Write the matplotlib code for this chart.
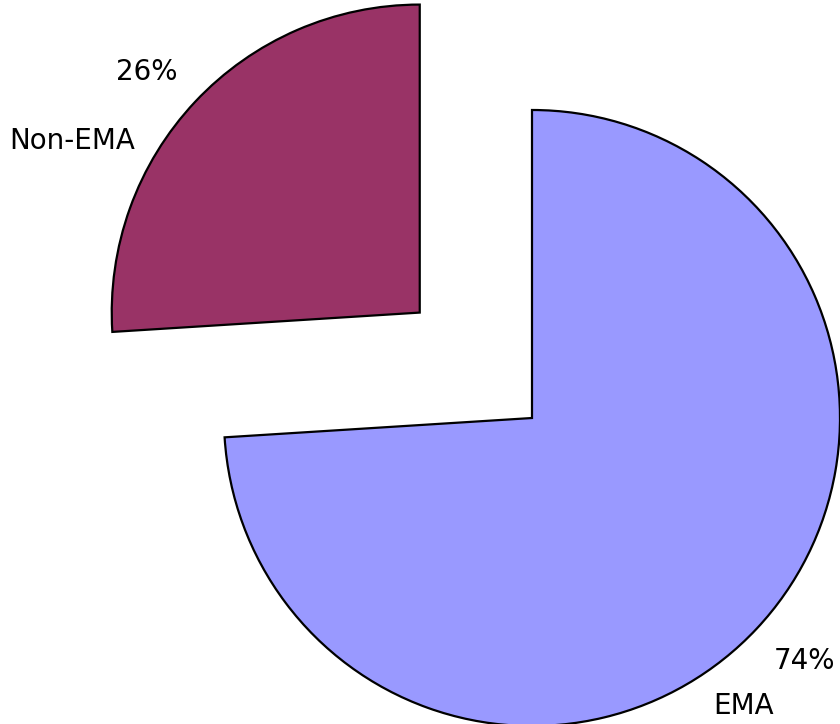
import matplotlib.pyplot as plt

labels = ['EMA', 'Non-EMA']
values = [74, 26]
colors = ['#9999FF', '#993366']

W, H = 840, 724
radius = 308
# explode offset as a fraction of the radius
explode = [0, 0.5 * radius]

# label positions in pixel coords (x, y from top)
label_pos = {'EMA': (744, 706), 'Non-EMA': (72, 141)}
pct_pos = {'EMA': (805, 661), 'Non-EMA': (147, 72)}

fig = plt.figure(figsize=(W / 100, H / 100), dpi=100)
ax = fig.add_axes([0, 0, 1, 1])

ax.pie(values, colors=colors, explode=explode, startangle=90, counterclock=False,
       center=(532, H - 418), radius=radius, frame=True,
       wedgeprops=dict(edgecolor='black', linewidth=1.6))
ax.set_xlim(0, W)
ax.set_ylim(0, H)
ax.set_aspect('equal')
ax.axis('off')

total = sum(values)
for lab, v in zip(labels, values):
    x, y = label_pos[lab]
    ax.text(x, H - y, lab, ha='center', va='center', fontsize=20, color='black')
    x, y = pct_pos[lab]
    ax.text(x, H - y, f'{v / total * 100:.0f}%', ha='center', va='center', fontsize=20, color='black')

fig.savefig('out.png', dpi=100)
